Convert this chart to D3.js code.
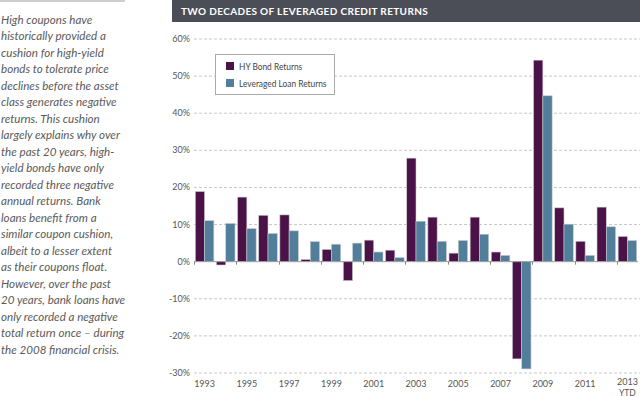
<!DOCTYPE html>
<html>
<head>
<meta charset="utf-8">
<script src="https://cdn.jsdelivr.net/npm/d3@7"></script>
<style>
  body { margin: 0; background: #fff; }
  svg { display: block; }
  .side { font-family: Lato, "Open Sans", sans-serif; font-style: italic; font-size: 11.6px; fill: #5a5a5a; }
  .lbl { font-family: Lato, sans-serif; font-size: 9px; fill: #555; }
</style>
</head>
<body>
<div id="chart"></div>
<script>
// data
const years = ["1993","1994","1995","1996","1997","1998","1999","2000","2001","2002","2003",
  "2004","2005","2006","2007","2008","2009","2010","2011","2012","2013"];
const hyReturns = [18.9, -0.9, 17.4, 12.5, 12.6, 0.6, 3.3, -5.1, 5.8, 3.1, 27.9,
  12.0, 2.3, 12.0, 2.6, -26.2, 54.3, 14.5, 5.5, 14.7, 6.8];
const loanReturns = [11.05, 10.3, 8.9, 7.6, 8.3, 5.4, 4.7, 5.0, 2.6, 1.1, 10.9,
  5.5, 5.7, 7.4, 1.7, -28.9, 44.7, 10.1, 1.7, 9.4, 5.7];
const seriesNames = ["HY Bond Returns", "Leveraged Loan Returns"];
const colors = ["#4b1248", "#517f9b"];
const yTicks = [60, 50, 40, 30, 20, 10, 0, -10, -20, -30];
const title = "TWO DECADES OF LEVERAGED CREDIT RETURNS";
const sideText = [
  "High coupons have",
  "historically provided a",
  "cushion for high-yield",
  "bonds to tolerate price",
  "declines before the asset",
  "class generates negative",
  "returns. This cushion",
  "largely explains why over",
  "the past 20 years, high-",
  "yield bonds have only",
  "recorded three negative",
  "annual returns. Bank",
  "loans benefit from a",
  "similar coupon cushion,",
  "albeit to a lesser extent",
  "as their coupons float.",
  "However, over the past",
  "20 years, bank loans have",
  "only recorded a negative",
  "total return once \u2013 during",
  "the 2008 financial crisis."
];

const W = 640, H = 396;
const svg = d3.select("#chart").append("svg")
  .attr("width", W).attr("height", H);

// sidebar
svg.append("rect").attr("x", 0).attr("y", 0).attr("width", 125).attr("height", 2).attr("fill", "#cfcfcf");
svg.append("g").selectAll("text")
  .data(sideText)
  .join("text")
  .attr("class", "side")
  .attr("x", 1)
  .attr("y", (d, i) => 23.5 + i * 16.5)
  .text(d => d);

// title bar
svg.append("rect").attr("x", 172).attr("y", 0).attr("width", W - 172).attr("height", 22).attr("fill", "#4b4e57");
svg.append("text")
  .attr("x", 181).attr("y", 15)
  .attr("fill", "#fff")
  .style("font-family", "Lato, sans-serif")
  .style("font-weight", "bold")
  .style("font-size", "10px")
  .style("letter-spacing", "0.35px")
  .text(title);

// scales
const y = d3.scaleLinear().domain([-30, 60]).range([373, 39]);
const x = d3.scaleBand().domain(years).range([194, 638]).paddingInner(0).paddingOuter(0);
const xs = d3.scaleBand().domain(seriesNames).range([0, x.bandwidth()]).paddingOuter(0.14).paddingInner(0);

// grid
svg.append("g").selectAll("line")
  .data(yTicks.filter(d => d !== 0))
  .join("line")
  .attr("x1", 194).attr("x2", W)
  .attr("y1", d => y(d)).attr("y2", d => y(d))
  .attr("stroke", "#c8c8c8")
  .attr("stroke-width", 1)
  .attr("stroke-dasharray", "3,2");

svg.append("g").selectAll("text")
  .data(yTicks)
  .join("text")
  .attr("class", "lbl")
  .attr("x", 190)
  .attr("y", d => y(d) + 3)
  .attr("text-anchor", "end")
  .text(d => d + "%");

// bars
const rows = years.map((yr, i) => ({ year: yr, vals: [hyReturns[i], loanReturns[i]] }));
const groups = svg.append("g").selectAll("g")
  .data(rows)
  .join("g")
  .attr("transform", d => `translate(${x(d.year)},0)`);

groups.selectAll("rect")
  .data(d => d.vals.map((v, k) => ({ name: seriesNames[k], v: v, k: k })))
  .join("rect")
  .attr("x", d => xs(d.name))
  .attr("width", xs.bandwidth())
  .attr("y", d => y(Math.max(0, d.v)))
  .attr("height", d => Math.abs(y(d.v) - y(0)))
  .attr("fill", d => colors[d.k])
  .attr("stroke", "#c9c9cf")
  .attr("stroke-width", 0.6);

// zero axis + ticks
svg.append("line")
  .attr("x1", 194).attr("x2", 638)
  .attr("y1", y(0)).attr("y2", y(0))
  .attr("stroke", "#999").attr("stroke-width", 1);

svg.append("g").selectAll("line")
  .data(years.filter((d, i) => i % 2 === 0))
  .join("line")
  .attr("x1", d => Math.round(x(d)) + 0.5).attr("x2", d => Math.round(x(d)) + 0.5)
  .attr("y1", y(0)).attr("y2", y(0) + 3)
  .attr("stroke", "#888");

// year labels
svg.append("g").selectAll("text")
  .data(years.filter((d, i) => i % 2 === 0))
  .join("text")
  .attr("class", "lbl")
  .attr("x", d => x(d) + x.bandwidth() / 2)
  .attr("y", d => d === "2013" ? 385 : 386.5)
  .attr("text-anchor", "middle")
  .text(d => d);
svg.append("text")
  .attr("class", "lbl")
  .style("font-size", "8.5px")
  .attr("x", x("2013") + x.bandwidth() / 2)
  .attr("y", 395.5)
  .attr("text-anchor", "middle")
  .text("YTD");

// legend
const lg = svg.append("g");
lg.append("rect")
  .attr("x", 215.5).attr("y", 54.5).attr("width", 119).attr("height", 40)
  .attr("fill", "#fff").attr("stroke", "#aaa").attr("stroke-width", 1);
const items = lg.selectAll("g")
  .data(seriesNames)
  .join("g")
  .attr("transform", (d, i) => `translate(226,${62 + i * 17})`);
items.append("rect").attr("width", 8).attr("height", 8)
  .attr("fill", (d, i) => colors[i]);
items.append("text")
  .attr("transform", "translate(13,7.5) scale(0.88,1)")
  .style("font-family", "Lato, sans-serif")
  .style("font-size", "9.5px")
  .style("fill", "#444")
  .text(d => d);
</script>
</body>
</html>
